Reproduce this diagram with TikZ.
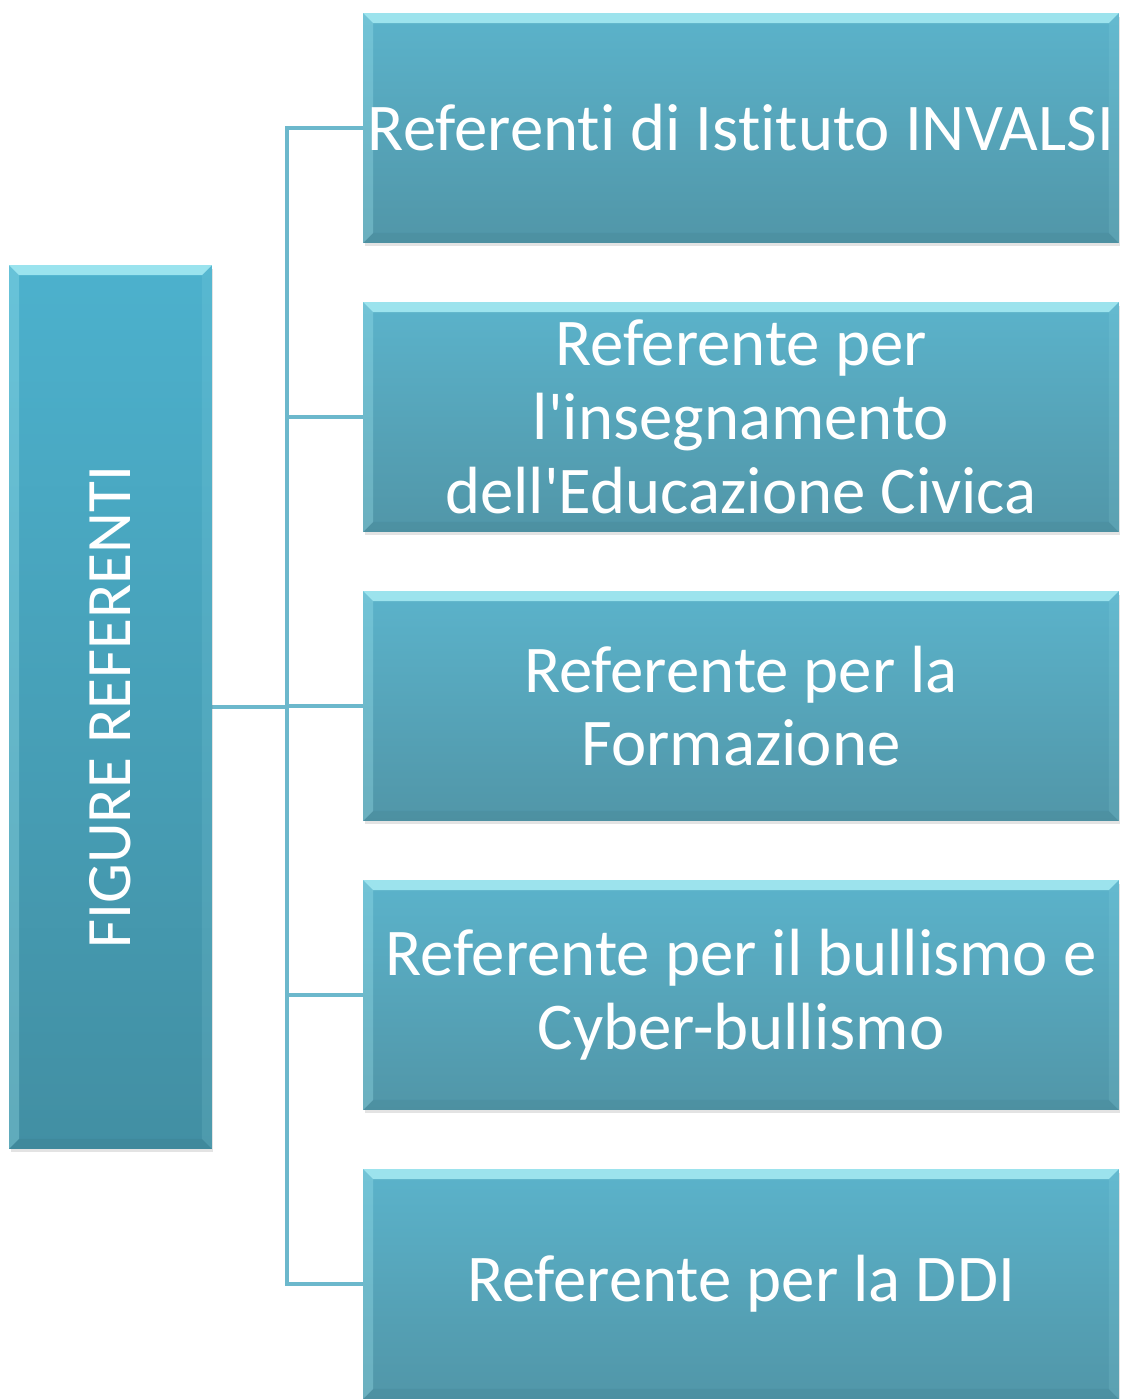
\documentclass[tikz,border=0pt]{standalone}
\usepackage{fontspec}
\usepackage{graphicx}
\setmainfont{Carlito}[Ligatures={TeX,NoCommon,NoContextual},Contextuals=NoAlternate,RawFeature={-liga;-clig;-calt}]
\usetikzlibrary{shadows,backgrounds}

\definecolor{reftop}{HTML}{5BB3CB}
\definecolor{refbot}{HTML}{5196A8}
\definecolor{figtop}{HTML}{4CB1CD}
\definecolor{figbot}{HTML}{428FA3}
\definecolor{linkcol}{HTML}{6CB8CC}
\definecolor{bevelcol}{HTML}{A8ECF4}

\begin{document}
\begin{tikzpicture}[x=0.02cm,y=-0.02cm,
    bevel/.style={path picture={
      \fill[bevelcol,opacity=.85] (path picture bounding box.north west) -- (path picture bounding box.north east)
        -- ([shift={(-0.2cm,-0.2cm)}]path picture bounding box.north east) -- ([shift={(0.2cm,-0.2cm)}]path picture bounding box.north west) -- cycle;
      \fill[bevelcol,opacity=.3] (path picture bounding box.north west) -- ([shift={(0.2cm,-0.2cm)}]path picture bounding box.north west)
        -- ([shift={(0.2cm,0.2cm)}]path picture bounding box.south west) -- (path picture bounding box.south west) -- cycle;
      \fill[black,opacity=.04] (path picture bounding box.south west) -- (path picture bounding box.south east)
        -- ([shift={(-0.2cm,0.2cm)}]path picture bounding box.south east) -- ([shift={(0.2cm,0.2cm)}]path picture bounding box.south west) -- cycle;
      \fill[bevelcol,opacity=.12] (path picture bounding box.north east) -- ([shift={(-0.2cm,-0.2cm)}]path picture bounding box.north east)
        -- ([shift={(-0.2cm,0.2cm)}]path picture bounding box.south east) -- (path picture bounding box.south east) -- cycle;
    }},
    ref_node/.style={rectangle,inner sep=0pt,minimum width=15.12cm,minimum height=4.6cm,
      top color=reftop,bottom color=refbot,bevel,text=white,align=center,
      drop shadow={opacity=.22,shadow xshift=0.03cm,shadow yshift=-0.07cm},
      font=\fontsize{38}{42}\selectfont},
    fig_node/.style={rectangle,inner sep=0pt,minimum width=4.06cm,minimum height=17.68cm,
      top color=figtop,bottom color=figbot,bevel,text=white,
      drop shadow={opacity=.22,shadow xshift=0.03cm,shadow yshift=-0.07cm},
      font=\fontsize{36}{40}\selectfont},
    link/.style={draw=linkcol,line width=2.8pt}]

    \useasboundingbox (0,0) rectangle (1124,1399);

    \node[fig_node] (fig) at (110.5,707) {\rotatebox{90}{FIGURE REFERENTI}};

    \node[ref_node] (r1) at (741,128) {Referenti di Istituto INVALSI};
    \node[ref_node] (r2) at (741,417) {Referente per\\l\textquotesingle insegnamento\\dell\textquotesingle Educazione Civica};
    \node[ref_node] (r3) at (741,706) {Referente per la\\Formazione};
    \node[ref_node] (r4) at (741,995) {Referente per il bullismo e\\Cyber-bullismo};
    \node[ref_node] (r5) at (741,1284) {Referente per la DDI};

    \coordinate (bus) at (287,707);

    \begin{scope}[on background layer]
    \draw[link] (fig.east) -- (bus);
    \draw[link] (r1.west) -- (bus |- r1.west) -- (bus |- r5.west) -- (r5.west);
    \draw[link] (bus |- r2.west) -- (r2.west);
    \draw[link] (bus |- r3.west) -- (r3.west);
    \draw[link] (bus |- r4.west) -- (r4.west);
    \end{scope}
\end{tikzpicture}
\end{document}
